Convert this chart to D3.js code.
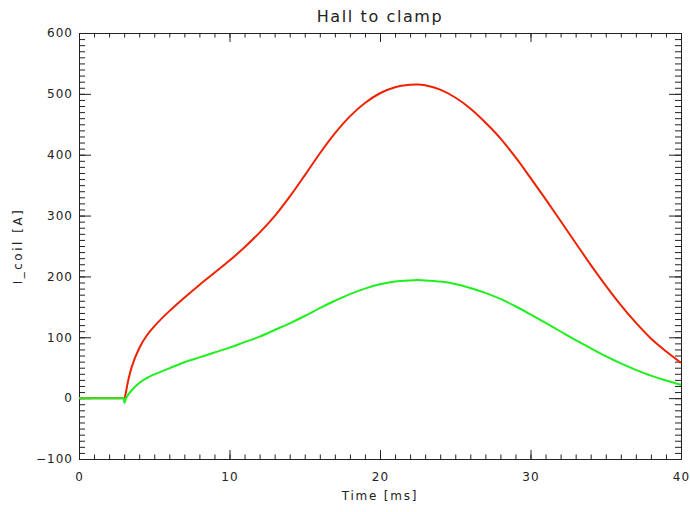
<!DOCTYPE html>
<html>
<head>
<meta charset="utf-8">
<script src="https://cdn.jsdelivr.net/npm/d3@7"></script>
<style>
  body { margin: 0; background: #fff; }
  text { font-family: "DejaVu Sans", sans-serif; fill: #222; }
</style>
</head>
<body>
<div id="chart"></div>
<script>
// time axis (ms) and coil current (A)
var redTime  = [0, 1, 2, 2.9, 3, 3.25, 3.5, 4, 4.5, 5, 6, 7, 8, 9, 10, 11, 12, 13, 14, 15, 16, 17, 18, 19, 20, 21, 22, 22.5, 23, 24, 25, 26, 27, 28, 29, 30, 31, 32, 33, 34, 35, 36, 37, 38, 39, 40];
var redVal   = [0, 0, 0, 0, 0, 27, 51, 82, 103, 118, 143, 165, 186, 206, 226, 248, 272, 299, 331, 366, 402, 435, 463, 485, 501, 511, 515, 515.5, 514, 507, 494, 476, 453, 427, 396, 362, 327, 291, 255, 219, 185, 153, 124, 98, 77, 58];

var greenTime = [0, 1, 2, 2.9, 2.97, 3.02, 3.15, 3.5, 4, 4.5, 5, 5.5, 6, 7, 8, 9, 10, 11, 12, 13, 14, 15, 16, 17, 18, 19, 20, 21, 22, 22.5, 23, 24, 25, 26, 27, 28, 29, 30, 31, 32, 33, 34, 35, 36, 37, 38, 39, 40];
var greenVal  = [0, 0, 0, 0, 0, -8, 1, 13, 25, 33, 39, 44, 49, 59, 67, 75, 83, 92, 101, 112, 123, 135, 148, 160, 171, 180, 187, 191.5, 193.5, 194, 193.5, 191.5, 187.5, 181, 173, 163, 151, 137.5, 123.5, 109.5, 95.5, 82, 69, 57, 46.5, 37, 29, 22];

var xMajor = [0, 10, 20, 30, 40];
var yMajor = [-100, 0, 100, 200, 300, 400, 500, 600];

var W = 690, H = 512;
var margin = {top: 33, right: 9, bottom: 53, left: 79};
var width = W - margin.left - margin.right,
    height = H - margin.top - margin.bottom;

var svg = d3.select("#chart").append("svg")
    .attr("width", W)
    .attr("height", H);

var g = svg.append("g")
    .attr("transform", "translate(" + margin.left + "," + margin.top + ")");

var x = d3.scaleLinear().domain([0, 40]).range([0, width]);
var y = d3.scaleLinear().domain([-100, 600]).range([height, 0]);

var xMinor = d3.range(0, 41, 1);
var yMinor = d3.range(-100, 601, 10);

// bottom axis
g.append("g").attr("transform", "translate(0," + height + ")")
  .call(d3.axisBottom(x).tickValues(xMinor).tickSizeInner(-4.5).tickSizeOuter(0).tickFormat(""));
g.append("g").attr("transform", "translate(0," + height + ")")
  .call(d3.axisBottom(x).tickValues(xMajor).tickSizeInner(-9).tickSizeOuter(0).tickPadding(13).tickFormat(d3.format("d")));
// top axis
g.append("g")
  .call(d3.axisTop(x).tickValues(xMinor).tickSizeInner(-4.5).tickSizeOuter(0).tickFormat(""));
g.append("g")
  .call(d3.axisTop(x).tickValues(xMajor).tickSizeInner(-9).tickSizeOuter(0).tickFormat(""));
// left axis
g.append("g")
  .call(d3.axisLeft(y).tickValues(yMinor).tickSizeInner(-6).tickSizeOuter(0).tickFormat(""));
g.append("g")
  .call(d3.axisLeft(y).tickValues(yMajor).tickSizeInner(-12).tickSizeOuter(0).tickPadding(6).tickFormat(function(d){ return d < 0 ? "\u2212" + (-d) : d; }));
// right axis
g.append("g").attr("transform", "translate(" + width + ",0)")
  .call(d3.axisRight(y).tickValues(yMinor).tickSizeInner(-6).tickSizeOuter(0).tickFormat(""));
g.append("g").attr("transform", "translate(" + width + ",0)")
  .call(d3.axisRight(y).tickValues(yMajor).tickSizeInner(-12).tickSizeOuter(0).tickFormat(""));

g.selectAll(".domain, .tick line").attr("stroke", "#222").attr("stroke-width", 1);
g.selectAll(".tick text")
  .attr("font-family", "DejaVu Sans, sans-serif")
  .attr("font-size", 12)
  .attr("letter-spacing", 1)
  .attr("fill", "#222");

var line = d3.line()
  .x(function(d) { return x(d[0]); })
  .y(function(d) { return y(d[1]); })
  .curve(d3.curveCatmullRom.alpha(0.5));

var redData = d3.zip(redTime, redVal);
var greenData = d3.zip(greenTime, greenVal);

g.append("path").datum(redData)
  .attr("d", line)
  .attr("fill", "none")
  .attr("stroke", "#ee2200")
  .attr("stroke-width", 2);

g.append("path").datum(greenData)
  .attr("d", line)
  .attr("fill", "none")
  .attr("stroke", "#1ef01e")
  .attr("stroke-width", 2);

// title and axis labels
svg.append("text")
  .attr("x", margin.left + width / 2)
  .attr("y", 22)
  .attr("text-anchor", "middle")
  .attr("font-size", 16)
  .attr("letter-spacing", 1.6)
  .text("Hall to clamp");

svg.append("text")
  .attr("x", margin.left + width / 2)
  .attr("y", 500)
  .attr("text-anchor", "middle")
  .attr("font-size", 12)
  .attr("letter-spacing", 1.8)
  .text("Time [ms]");

svg.append("text")
  .attr("transform", "translate(22," + (margin.top + height / 2) + ") rotate(-90)")
  .attr("text-anchor", "middle")
  .attr("font-size", 12)
  .attr("letter-spacing", 2.5)
  .text("I_coil [A]");
</script>
</body>
</html>
